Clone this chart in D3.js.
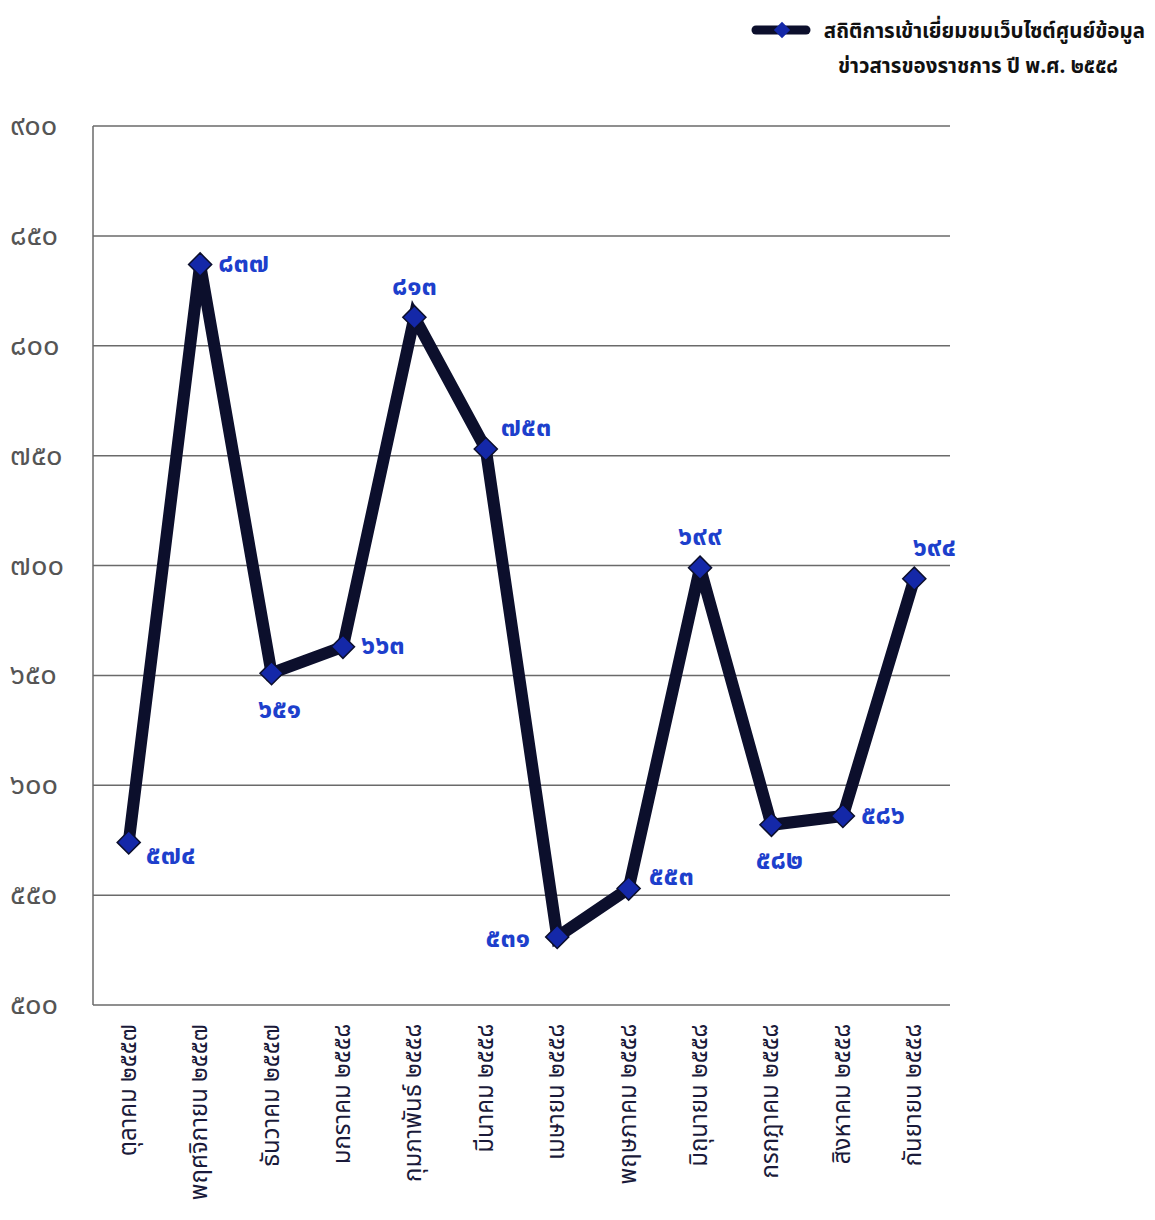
<!DOCTYPE html>
<html>
<head>
<meta charset="utf-8">
<script src="https://cdn.jsdelivr.net/npm/d3@7"></script>
<style>
  body { margin: 0; background: #fff; }
  svg text { font-family: "Noto Sans Thai", Tahoma, "DejaVu Sans", sans-serif; }
</style>
</head>
<body>
<div class="chart"></div>
<script>
// data
var months = ["ตุลาคม ๒๕๕๗", "พฤศจิกายน ๒๕๕๗", "ธันวาคม ๒๕๕๗", "มกราคม ๒๕๕๘",
  "กุมภาพันธ์ ๒๕๕๘", "มีนาคม ๒๕๕๘", "เมษายน ๒๕๕๘", "พฤษภาคม ๒๕๕๘",
  "มิถุนายน ๒๕๕๘", "กรกฎาคม ๒๕๕๘", "สิงหาคม ๒๕๕๘", "กันยายน ๒๕๕๘"];
var visits = [574, 837, 651, 663, 813, 753, 531, 553, 699, 582, 586, 694];
var yTicks = [500, 550, 600, 650, 700, 750, 800, 850, 900];
var labelSide = ["belowRight", "right", "below", "right", "above", "aboveRight",
  "left", "rightUp", "above", "below", "right", "aboveShift"];
var legendLines = ["สถิติการเข้าเยี่ยมชมเว็บไซต์ศูนย์ข้อมูล", "ข่าวสารของราชการ ปี พ.ศ. ๒๕๕๘"];

var thaiDigits = "๐๑๒๓๔๕๖๗๘๙";
function toThai(n) {
  return String(n).replace(/[0-9]/g, function(c){ return thaiDigits[+c]; });
}

var width = 1155, height = 1220;
var plotLeft = 93, plotRight = 950, plotTop = 126, plotBottom = 1005;

var svg = d3.select(".chart").append("svg")
  .attr("width", width)
  .attr("height", height);

var x = d3.scaleBand().domain(months).range([plotLeft, plotRight]);
var y = d3.scaleLinear().domain([500, 900]).range([plotBottom, plotTop]);
var cx = (d, i) => x(months[i]) + x.bandwidth() / 2;

// grid lines
svg.append("g").selectAll("line")
  .data(yTicks).enter().append("line")
    .attr("x1", plotLeft).attr("x2", plotRight)
    .attr("y1", d => y(d)).attr("y2", d => y(d))
    .attr("stroke", "#6a6a6a").attr("stroke-width", 1.5);

svg.append("line")
  .attr("x1", plotLeft).attr("x2", plotLeft)
  .attr("y1", plotTop).attr("y2", plotBottom)
  .attr("stroke", "#6a6a6a").attr("stroke-width", 1.5);

// y tick labels
svg.append("g").selectAll("text")
  .data(yTicks).enter().append("text")
    .attr("x", 10).attr("y", d => y(d))
    .attr("dominant-baseline", "central")
    .attr("font-size", 29)
    .attr("fill", "#555")
    .text(d => toThai(d));

// x labels (rotated)
svg.append("g").selectAll("text")
  .data(months).enter().append("text")
    .attr("transform", d => "translate(" + (x(d) + x.bandwidth() / 2) + "," + 1024 + ") rotate(-90)")
    .attr("text-anchor", "end")
    .attr("dominant-baseline", "central")
    .attr("font-size", 24)
    .attr("fill", "#1a1a3a")
    .text(d => d);

// line
var line = d3.line()
  .x(cx)
  .y(d => y(d));

svg.append("path")
  .datum(visits)
  .attr("d", line)
  .attr("fill", "none")
  .attr("stroke", "#0c0f2c")
  .attr("stroke-width", 12)
  .attr("stroke-linejoin", "miter");

var diamond = d3.symbol().type(d3.symbolDiamond2).size(340);

svg.append("g").selectAll("path")
  .data(visits).enter().append("path")
    .attr("d", diamond)
    .attr("transform", (d, i) => "translate(" + cx(d, i) + "," + y(d) + ")")
    .attr("fill", "#1428a8")
    .attr("stroke", "#0c0f2c")
    .attr("stroke-width", 1.5);

// data labels
var offsets = {
  right: [18, -1, "start"],
  rightUp: [20, -12, "start"],
  left: [-27, 2, "end"],
  above: [0, -31, "middle"],
  aboveShift: [20, -31, "middle"],
  below: [8, 36, "middle"],
  belowRight: [17, 13, "start"],
  aboveRight: [15, -22, "start"]
};
svg.append("g").selectAll("text")
  .data(visits).enter().append("text")
    .attr("x", (d, i) => cx(d, i) + offsets[labelSide[i]][0])
    .attr("y", (d, i) => y(d) + offsets[labelSide[i]][1])
    .attr("text-anchor", (d, i) => offsets[labelSide[i]][2])
    .attr("dominant-baseline", "central")
    .attr("font-size", 27)
    .attr("font-weight", "bold")
    .attr("fill", "#1d3fcc")
    .text(d => toThai(d));

// legend
var lg = svg.append("g");
lg.append("line")
  .attr("x1", 756).attr("x2", 806).attr("y1", 30).attr("y2", 30)
  .attr("stroke", "#0c0f2c").attr("stroke-width", 9)
  .attr("stroke-linecap", "round");
lg.append("path")
  .attr("d", d3.symbol().type(d3.symbolDiamond2).size(170))
  .attr("transform", "translate(782,30)")
  .attr("fill", "#1428a8");
lg.selectAll("text")
  .data(legendLines).enter().append("text")
    .attr("x", (d, i) => i == 0 ? 1145 : 1118)
    .attr("y", (d, i) => 31 + i * 35)
    .attr("dominant-baseline", "central")
    .attr("text-anchor", "end")
    .attr("font-size", 20.5)
    .attr("font-weight", "bold")
    .attr("fill", "#111")
    .text(d => d);
</script>
</body>
</html>
